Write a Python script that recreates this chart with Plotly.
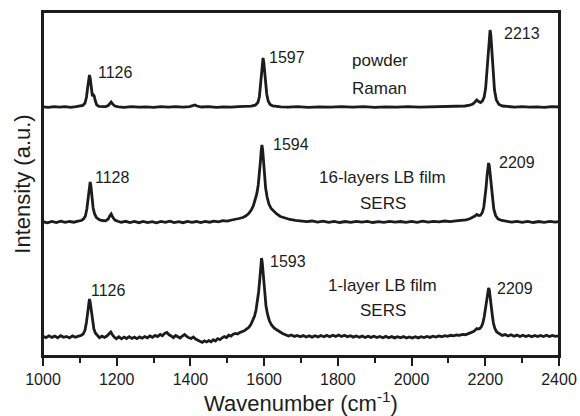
import plotly.graph_objects as go

# Wavenumber (cm-1), intensity (a.u., already offset for stacking)
powder_raman = [
    (1000, 249.2), (1015, 248.6), (1030, 249.4), (1045, 248.8), (1060, 249.3), (1075, 248.7),
    (1090, 249.4), (1100, 249.6), (1108, 250.5), (1114, 253), (1118, 259), (1121, 268),
    (1124, 278), (1126, 281), (1128, 278), (1131, 266), (1134, 260), (1137, 261), (1139, 260),
    (1142, 255), (1146, 251), (1152, 249.6), (1160, 249.2), (1170, 249.4), (1177, 250.5),
    (1181, 252.5), (1185, 254), (1189, 252), (1195, 250), (1205, 249.2), (1220, 248.7),
    (1240, 249.3), (1260, 248.8), (1280, 249.2), (1300, 248.6), (1320, 249.3), (1340, 248.9),
    (1360, 249.4), (1380, 248.8), (1398, 249.3), (1406, 250.2), (1412, 251), (1418, 250),
    (1430, 249), (1450, 249.4), (1470, 248.7), (1490, 249.2), (1510, 248.8), (1530, 249.4),
    (1550, 249.2), (1565, 249.8), (1576, 250.8), (1583, 253.5), (1587, 259), (1590, 270),
    (1593, 286), (1595, 294), (1597, 298), (1599, 294), (1601, 286), (1604, 272), (1607, 262),
    (1611, 255), (1616, 251.5), (1623, 250.2), (1632, 249.6), (1645, 249.2), (1665, 248.8),
    (1690, 249.3), (1720, 248.7), (1750, 249.2), (1780, 248.9), (1810, 249.4), (1840, 248.8),
    (1870, 249.3), (1900, 248.7), (1930, 249.2), (1960, 248.8), (1990, 249.3), (2020, 248.9),
    (2050, 249.2), (2080, 248.8), (2110, 249.3), (2130, 249.6), (2145, 250), (2158, 250.8),
    (2166, 252), (2172, 254), (2177, 256), (2182, 254.5), (2187, 253.5), (2192, 255),
    (2197, 259), (2201, 268), (2205, 287), (2208, 306), (2211, 320), (2213, 326), (2215, 321),
    (2218, 305), (2221, 284), (2225, 266), (2230, 256), (2237, 251.5), (2247, 250),
    (2260, 249.4), (2280, 248.9), (2300, 249.3), (2320, 248.8), (2340, 249.2), (2360, 248.7),
    (2380, 249.3), (2400, 249),
]

lb16_sers = [
    (1000, 134.3), (1012, 133.2), (1024, 134.6), (1036, 133.5), (1048, 134.8), (1060, 133.6),
    (1072, 134.5), (1084, 133.8), (1095, 134.8), (1104, 135.5), (1110, 137), (1115, 140),
    (1119, 147), (1122, 157), (1125, 168), (1128, 174), (1130, 170), (1133, 158), (1136, 148),
    (1140, 142), (1145, 138.5), (1152, 136.5), (1160, 135.5), (1170, 135.2), (1177, 137),
    (1181, 140), (1185, 142), (1189, 139), (1195, 136), (1203, 134.8), (1212, 133.6),
    (1224, 134.7), (1236, 133.4), (1248, 134.5), (1260, 133.3), (1272, 134.6), (1284, 133.5),
    (1296, 134.4), (1308, 133.2), (1320, 134.5), (1332, 133.6), (1344, 134.8), (1356, 133.5),
    (1368, 134.4), (1380, 133.3), (1392, 134.6), (1404, 133.7), (1416, 134.5), (1428, 133.4),
    (1440, 134.6), (1452, 133.8), (1464, 134.9), (1476, 134.2), (1488, 135.3), (1500, 134.8),
    (1512, 136), (1522, 136.4), (1532, 137.5), (1542, 138.5), (1550, 140), (1558, 142.5),
    (1565, 146), (1571, 150.5), (1576, 156), (1580, 162), (1584, 171), (1587, 181), (1590, 195),
    (1592, 205), (1594, 211), (1596, 206), (1598, 195), (1601, 180), (1604, 168), (1608, 159),
    (1613, 152), (1619, 147.5), (1626, 144.5), (1634, 142), (1644, 139.5), (1656, 137.8),
    (1670, 136.5), (1685, 135.6), (1700, 135.2), (1715, 134.3), (1730, 135), (1745, 133.9),
    (1760, 134.8), (1775, 133.7), (1790, 134.6), (1805, 133.5), (1820, 134.5), (1835, 133.6),
    (1850, 134.7), (1865, 133.8), (1880, 134.6), (1895, 133.5), (1910, 134.4), (1925, 133.6),
    (1940, 134.7), (1955, 133.8), (1970, 134.5), (1985, 133.6), (2000, 134.6), (2015, 133.7),
    (2030, 134.8), (2045, 133.9), (2060, 134.7), (2075, 134.2), (2090, 135), (2105, 134.4),
    (2120, 135.2), (2135, 135.5), (2148, 136.2), (2158, 137.2), (2166, 138.5), (2172, 140),
    (2177, 141.5), (2182, 140.5), (2187, 140.8), (2192, 143.5), (2196, 149), (2199, 157),
    (2202, 168), (2205, 181), (2207, 189), (2209, 193), (2211, 190), (2213, 183), (2216, 170),
    (2219, 157), (2223, 147), (2228, 140.5), (2235, 137), (2245, 135.5), (2258, 134.6),
    (2272, 133.8), (2286, 134.7), (2300, 133.7), (2315, 134.6), (2330, 133.5), (2345, 134.5),
    (2360, 133.6), (2375, 134.7), (2390, 133.8), (2400, 134.3),
]

lb1_sers = [
    (1000, 19.8), (1008, 18.3), (1016, 20.2), (1024, 18.6), (1032, 19.9), (1040, 18.2),
    (1048, 20.3), (1056, 18.7), (1064, 19.6), (1072, 18.1), (1080, 20.1), (1088, 18.8),
    (1096, 19.9), (1103, 20.5), (1109, 22), (1114, 26), (1118, 34), (1121, 44), (1124, 53),
    (1126, 57), (1128, 54), (1131, 44), (1134, 34), (1138, 27), (1142, 23), (1147, 20.5),
    (1153, 18.3), (1160, 19.8), (1167, 18.6), (1174, 20.2), (1180, 22.5), (1184, 24),
    (1188, 21.5), (1193, 19), (1199, 17.3), (1206, 19.2), (1213, 17.2), (1220, 18.9),
    (1227, 17.5), (1234, 19.3), (1241, 17.6), (1248, 18.8), (1255, 17.3), (1262, 19.1),
    (1269, 17.8), (1276, 19.5), (1283, 18.2), (1290, 20), (1297, 18.7), (1304, 20.6),
    (1311, 19.4), (1318, 21.5), (1324, 20.3), (1330, 22.6), (1336, 23.5), (1342, 21.2),
    (1348, 20), (1354, 18.4), (1360, 20.5), (1366, 19), (1372, 18), (1378, 20), (1384, 21.5),
    (1390, 19.7), (1396, 18.2), (1402, 17.6), (1408, 19), (1414, 17), (1420, 15.8),
    (1426, 14.9), (1432, 13.6), (1438, 15.2), (1444, 14.1), (1450, 15.5), (1456, 14.3),
    (1462, 16.2), (1468, 15), (1474, 17.4), (1480, 16.3), (1486, 18.2), (1492, 19.4),
    (1498, 18.5), (1504, 20.8), (1510, 19.9), (1516, 21.8), (1522, 22.6), (1528, 22),
    (1534, 23.5), (1540, 24.3), (1546, 25.2), (1552, 26.8), (1558, 28.5), (1564, 31.5),
    (1569, 35), (1574, 40), (1578, 46), (1582, 55), (1585, 64), (1588, 76), (1590, 87),
    (1592, 95), (1593, 98), (1595, 93), (1597, 84), (1599, 73), (1602, 60), (1605, 50),
    (1609, 42), (1614, 35.5), (1620, 31), (1627, 28), (1634, 26.2), (1642, 24), (1650, 22.5),
    (1658, 21.2), (1666, 20), (1674, 21), (1682, 19.6), (1690, 20.6), (1698, 19.3),
    (1706, 20.4), (1714, 19), (1722, 20.3), (1730, 18.9), (1738, 20.2), (1746, 19.1),
    (1754, 20.5), (1762, 19.2), (1770, 20.6), (1778, 19.3), (1786, 20.8), (1794, 19.6),
    (1802, 21), (1810, 19.5), (1818, 20.7), (1826, 19.2), (1834, 20.3), (1842, 18.9),
    (1850, 20.1), (1858, 18.8), (1866, 19.9), (1874, 18.5), (1882, 19.8), (1890, 18.6),
    (1898, 19.7), (1906, 18.4), (1914, 19.5), (1922, 18.2), (1930, 19.6), (1938, 18.3),
    (1946, 19.4), (1954, 18.1), (1962, 19.3), (1970, 18.2), (1978, 19.4), (1986, 18),
    (1994, 19.1), (2002, 17.9), (2010, 19.2), (2018, 18.1), (2026, 19.3), (2034, 18.4),
    (2042, 19.6), (2050, 18.6), (2058, 19.8), (2066, 19), (2074, 20.1), (2082, 19.3),
    (2090, 20.4), (2098, 19.6), (2106, 20.7), (2114, 20.1), (2122, 21), (2130, 20.6),
    (2138, 21.6), (2146, 21.3), (2154, 22.4), (2162, 23.2), (2168, 24.5), (2173, 26),
    (2177, 27.5), (2181, 27), (2185, 27.5), (2189, 29), (2193, 32.5), (2197, 39), (2200, 46),
    (2203, 55), (2206, 63), (2209, 68), (2211, 66), (2213, 61), (2216, 51), (2219, 41),
    (2222, 33), (2226, 27.5), (2231, 24), (2238, 22), (2246, 20.6), (2254, 21.4), (2262, 20),
    (2270, 21.2), (2278, 19.7), (2286, 20.9), (2294, 19.5), (2302, 20.7), (2310, 19.4),
    (2318, 20.6), (2326, 19.3), (2334, 20.5), (2342, 19.4), (2350, 20.6), (2358, 19.5),
    (2366, 20.7), (2374, 19.4), (2382, 20.5), (2390, 19.6), (2400, 20.2),
]

x_ticks = [1000, 1200, 1400, 1600, 1800, 2000, 2200, 2400]

# peak labels: (text, wavenumber, intensity)
peak_labels = [
    ("1126", 1143, 284), ("1597", 1607, 299), ("2213", 2245, 323),
    ("1128", 1135, 179), ("1594", 1618, 212), ("2209", 2231, 194),
    ("1126", 1124, 66), ("1593", 1610, 95), ("2209", 2226, 68),
]
sample_labels = [
    ("powder", 1914, 296), ("Raman", 1914, 268),
    ("16-layers LB film", 1922, 179), ("SERS", 1922, 153),
    ("1-layer LB film", 1922, 71), ("SERS", 1922, 46),
]

FONT = "Liberation Sans, Arial, sans-serif"
INK = "#1c1c1c"

fig = go.Figure()
for spec in (powder_raman, lb16_sers, lb1_sers):
    xs, ys = zip(*spec)
    fig.add_trace(go.Scatter(x=list(xs), y=list(ys), mode="lines",
                             line=dict(color=INK, width=2.8), showlegend=False,
                             hoverinfo="skip"))

annotations = []
for t, x, y in peak_labels:
    annotations.append(dict(text=t, x=x, y=y, xref="x", yref="y", xanchor="left",
                            yanchor="middle", showarrow=False,
                            font=dict(family=FONT, size=16, color=INK)))
for t, x, y in sample_labels:
    annotations.append(dict(text=t, x=x, y=y, xref="x", yref="y", xanchor="center",
                            yanchor="middle", showarrow=False,
                            font=dict(family=FONT, size=17, color=INK)))

fig.update_layout(
    width=580, height=416,
    margin=dict(l=43, r=21, t=12, b=60, autoexpand=False),
    paper_bgcolor="white", plot_bgcolor="white",
    font=dict(family=FONT, color=INK),
    annotations=annotations,
    shapes=[dict(type="rect", xref="paper", yref="paper", x0=0, x1=1, y0=0, y1=1,
                 line=dict(color=INK, width=2), layer="above")],
    xaxis=dict(range=[1000, 2400], tickvals=x_ticks, ticks="outside", ticklen=8,
               tickwidth=1.5, tickcolor=INK, showline=True, linecolor=INK, linewidth=2,
               mirror=True, showgrid=False, zeroline=False, automargin=False,
               tickfont=dict(family=FONT, size=16, color=INK),
               minor=dict(dtick=100, ticks="outside", ticklen=5, tickwidth=1.5,
                          tickcolor=INK, showgrid=False),
               title=dict(text="Wavenumber (cm<sup>-1</sup>)", standoff=2,
                          font=dict(family=FONT, size=22, color=INK))),
    yaxis=dict(range=[0, 344], showticklabels=False, ticks="", showline=True,
               linecolor=INK, linewidth=2, mirror=True, showgrid=False, zeroline=False,
               automargin=False,
               title=dict(text="Intensity (a.u.)", standoff=4,
                          font=dict(family=FONT, size=22, color=INK))),
)

fig.write_html("out.html", config={"displayModeBar": False},
               post_script="document.body.style.margin='0';document.body.style.padding='0';"
                           "document.body.style.overflow='hidden';")
